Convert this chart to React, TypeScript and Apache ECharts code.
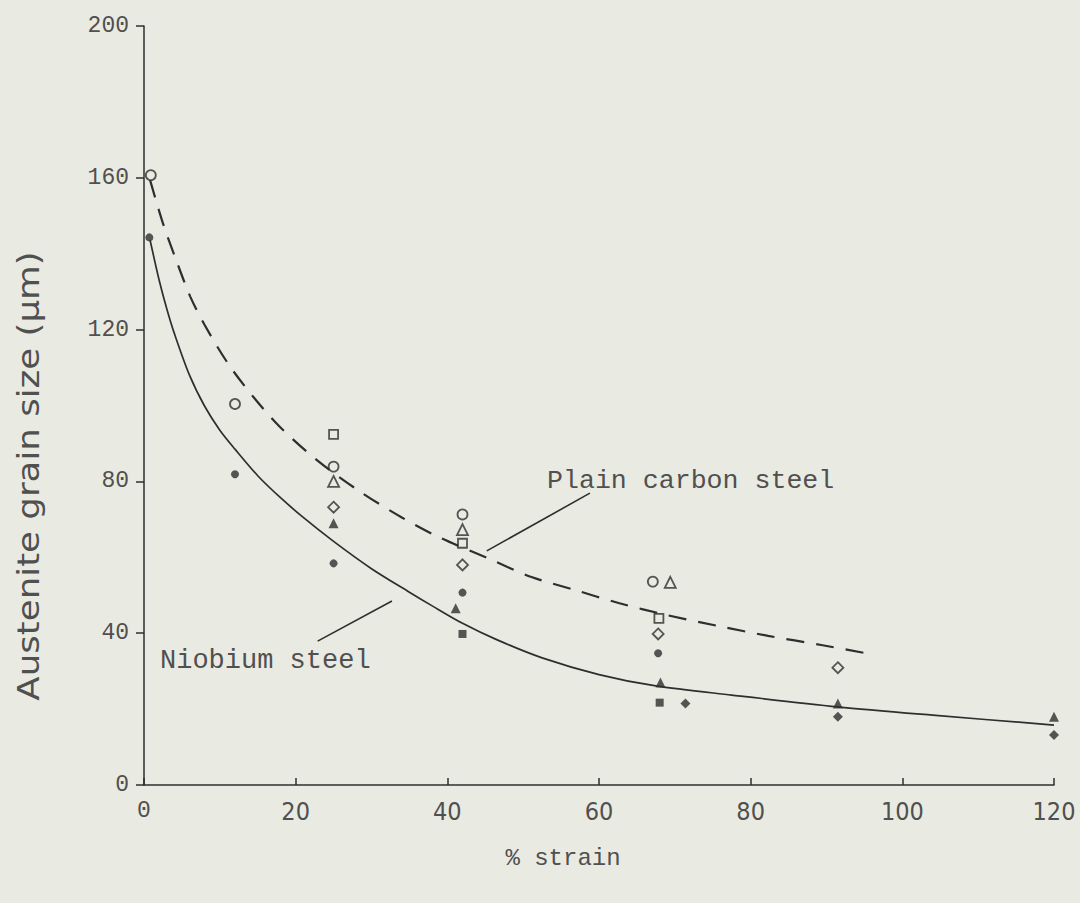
import React, { useEffect, useRef } from "react";
import * as echarts from "echarts";

const xTicks = [0, 20, 40, 60, 80, 100, 120];
const yTicks = [0, 40, 80, 120, 160, 200];

// fitted curves
const niobiumCurve: number[][] = [
  [0.8, 143.6], [2, 133], [3, 125.5], [4, 119], [6, 108], [8, 99.8], [10, 93.5],
  [12, 88.5], [15, 81.5], [18, 75.7], [21, 70.5], [25, 64.2], [30, 57], [35, 50.8],
  [38, 47.2], [42, 42.6], [46.5, 38.3], [52.5, 33.5], [60, 29.1], [67.5, 26.1],
  [77.5, 23.7], [91.5, 20.6], [104, 18.4], [120, 15.8],
];
const plainCarbonCurve: number[][] = [
  [0.8, 159.4], [2.5, 148], [4.3, 138], [6.1, 128.7], [8, 121.2], [11.1, 111],
  [14.4, 102.3], [17.9, 94.4], [22.8, 85.6], [28.5, 77.3], [34, 70.5], [39, 65.2],
  [45.4, 59.7], [51.1, 54.8], [56.8, 51.4], [62.7, 47.9], [68.9, 44.8], [75.7, 41.9],
  [82.3, 39.3], [89.3, 36.9], [96.3, 34.3],
];

// measured points
const openCircle: number[][] = [[0.9, 160.7], [12, 100.4], [25, 83.9], [42, 71.3], [67.1, 53.6]];
const openTriangle: number[][] = [[25, 80], [42, 67.3], [69.4, 53.4]];
const openSquare: number[][] = [[25, 92.4], [42, 63.7], [67.9, 43.9]];
const openDiamond: number[][] = [[25, 73.2], [42, 58], [67.8, 39.8], [91.5, 30.9]];
const filledCircle: number[][] = [[0.7, 144.3], [12, 81.9], [25, 58.4], [42, 50.7], [67.8, 34.7]];
const filledTriangle: number[][] = [[25, 69], [41.1, 46.6], [68.1, 27], [91.5, 21.5], [120, 18]];
const filledSquare: number[][] = [[42, 39.8], [68, 21.7]];
const filledDiamond: number[][] = [[71.4, 21.5], [91.5, 18], [120, 13.2]];

// leader lines for the curve labels
const plainLeader: number[][] = [[45.2, 61.7], [58.8, 76.9]];
const niobiumLeader: number[][] = [[22.9, 37.9], [32.7, 48.5]];

const BG = "#e9ebe2";
const INK = "#2e2e2e";
const TXT = "#505050";
const MONO = "'Liberation Mono', 'DejaVu Sans Mono', monospace";
const NARROW = "'Liberation Sans Narrow', 'DejaVu Sans Condensed', 'Liberation Sans', sans-serif";

export default function App() {
  const ref = useRef<HTMLDivElement>(null);
  useEffect(() => {
    document.body.style.margin = "0";
    const chart = echarts.init(ref.current!, null, { renderer: "svg" });

    const openSeries = (data: number[][], symbol: string, size: number) => ({
      type: "scatter",
      data,
      symbol,
      symbolSize: size,
      itemStyle: { color: BG, borderColor: INK, borderWidth: 1.8 },
      z: 5,
    });
    const filledSeries = (data: number[][], symbol: string, size: number) => ({
      type: "scatter",
      data,
      symbol,
      symbolSize: size,
      itemStyle: { color: INK },
      z: 5,
    });

    chart.setOption({
      animation: false,
      backgroundColor: BG,
      grid: { left: 144, right: 26, top: 26, bottom: 118, containLabel: false },
      xAxis: {
        type: "value",
        min: 0,
        max: 120,
        interval: 20,
        axisLine: { lineStyle: { color: INK, width: 1.5 } },
        axisTick: { inside: true, length: 7, lineStyle: { color: INK, width: 1.5 } },
        splitLine: { show: false },
        axisLabel: {
          color: TXT,
          fontFamily: NARROW,
          fontSize: 25,
          margin: 14,
          formatter: (v: number) => (v === 0 ? "{m|0}" : String(v)),
          rich: { m: { fontFamily: MONO, fontSize: 23, color: TXT } },
        },
      },
      yAxis: {
        type: "value",
        min: 0,
        max: 200,
        interval: 40,
        axisLine: { show: true, lineStyle: { color: INK, width: 1.5 } },
        axisTick: { show: true, inside: false, length: 8, lineStyle: { color: INK, width: 1.5 } },
        splitLine: { show: false },
        axisLabel: { color: TXT, fontFamily: MONO, fontSize: 23, margin: 15 },
      },
      graphic: [
        {
          type: "text",
          x: 28,
          y: 476,
          rotation: Math.PI / 2,
          scaleX: 1.32,
          style: {
            text: "Austenite grain size (μm)",
            fill: TXT,
            font: `30px ${NARROW}`,
            textAlign: "center",
            textVerticalAlign: "middle",
          },
        },
        {
          type: "text",
          x: 563,
          y: 858,
          style: {
            text: "% strain",
            fill: TXT,
            font: `24px ${MONO}`,
            textAlign: "center",
            textVerticalAlign: "middle",
          },
        },
        {
          type: "text",
          x: 547,
          y: 481,
          style: {
            text: "Plain carbon steel",
            fill: TXT,
            font: `26.6px ${MONO}`,
            textAlign: "left",
            textVerticalAlign: "middle",
          },
        },
        {
          type: "text",
          x: 160,
          y: 661,
          style: {
            text: "Niobium steel",
            fill: TXT,
            font: `27px ${MONO}`,
            textAlign: "left",
            textVerticalAlign: "middle",
          },
        },
      ],
      series: [
        {
          type: "line",
          data: niobiumCurve,
          smooth: 0.3,
          showSymbol: false,
          lineStyle: { color: INK, width: 1.7 },
          z: 3,
        },
        {
          type: "line",
          data: plainCarbonCurve,
          smooth: 0.3,
          showSymbol: false,
          lineStyle: { color: INK, width: 2.2, type: [18, 12] },
          z: 3,
        },
        {
          type: "line",
          data: plainLeader,
          showSymbol: false,
          lineStyle: { color: INK, width: 1.6 },
          z: 3,
        },
        {
          type: "line",
          data: niobiumLeader,
          showSymbol: false,
          lineStyle: { color: INK, width: 1.6 },
          z: 3,
        },
        openSeries(openCircle, "circle", 10),
        openSeries(openTriangle, "triangle", 11),
        openSeries(openSquare, "rect", 9),
        openSeries(openDiamond, "diamond", 11),
        filledSeries(filledCircle, "circle", 8),
        filledSeries(filledTriangle, "triangle", 10),
        filledSeries(filledSquare, "rect", 8),
        filledSeries(filledDiamond, "diamond", 10),
      ],
    });
    return () => chart.dispose();
  }, []);
  return <div ref={ref} style={{ width: 1080, height: 903 }} />;
}
